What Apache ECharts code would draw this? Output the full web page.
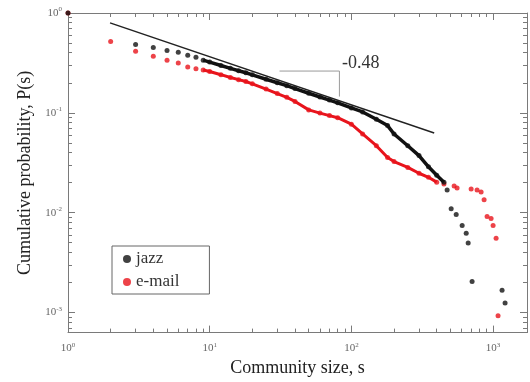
<!DOCTYPE html>
<html>
<head>
<meta charset="utf-8">
<script src="https://cdn.jsdelivr.net/npm/echarts@6/dist/echarts.min.js"></script>
<style>
  html, body { margin: 0; padding: 0; background: #fff; }
  #chart { width: 530px; height: 382px; }
</style>
</head>
<body>
<div id="chart"></div>
<script>
// community size s and cumulative probability P(s)
const jazzSize = [1, 3, 4, 5, 6, 7, 8, 9, 10, 12, 14, 16, 18, 20, 25, 30, 35, 40, 50, 60, 70, 80, 100, 120, 150, 180, 200, 250, 300, 350, 400, 450, 474, 506, 549, 605, 646, 667, 711, 1157, 1215];
const jazzProb = [1, 0.484, 0.452, 0.422, 0.404, 0.377, 0.360, 0.337, 0.322, 0.298, 0.279, 0.264, 0.252, 0.240, 0.217, 0.200, 0.187, 0.175, 0.157, 0.144, 0.134, 0.126, 0.112, 0.102, 0.0863, 0.0745, 0.0613, 0.0468, 0.0373, 0.0288, 0.0237, 0.0202, 0.01686, 0.01094, 0.00955, 0.00745, 0.00621, 0.00495, 0.00204, 0.00167, 0.00124];

const mailSize = [1, 2, 3, 4, 5, 6, 7, 8, 9, 10, 12, 14, 16, 18, 20, 25, 30, 35, 40, 50, 60, 70, 80, 100, 120, 150, 180, 200, 250, 300, 350, 400, 450, 531, 557, 700, 771, 823, 864, 907, 968, 1000, 1050, 1084];
const mailProb = [1, 0.518, 0.413, 0.369, 0.336, 0.315, 0.287, 0.277, 0.268, 0.259, 0.241, 0.226, 0.215, 0.206, 0.195, 0.173, 0.156, 0.143, 0.130, 0.107, 0.0993, 0.0938, 0.0893, 0.0770, 0.0614, 0.0468, 0.0356, 0.0325, 0.0284, 0.0248, 0.0226, 0.0202, 0.0193, 0.01845, 0.01763, 0.01723, 0.01686, 0.0161, 0.01343, 0.00914, 0.00873, 0.00745, 0.00554, 0.000924];

// the slope guide (power law with exponent -0.48) and its bracket
const fitSize = [1.98, 384];
const fitProb = [0.797, 0.0628];
const bracketSize = [31.1, 82.3, 82.3];
const bracketProb = [0.262, 0.262, 0.1455];
const slopeLabel = '-0.48';

const xMin = 1, xMax = 1735;
const yMin = 0.000628, yMax = 1;

const serif = 'Liberation Serif';
const axisGray = '#7a7a7a';
const jazzColor = '#111';
const mailColor = '#e8141c';

function pairs(xs, ys, from, to) {
  const out = [];
  for (let i = from; i < to; i++) out.push([xs[i], ys[i]]);
  return out;
}

function powLabel(v) {
  const e = Math.round(Math.log10(v));
  if (Math.abs(Math.log10(v) - e) > 1e-6) return '';
  return '{b|10}{s|' + e + '}';
}

const labelRich = {
  b: { fontFamily: serif, fontSize: 11, color: '#666' },
  s: { fontFamily: serif, fontSize: 7, color: '#666', padding: [0, 0, 7, 0] }
};

function logAxis(extra) {
  return Object.assign({
    type: 'log',
    logBase: 10,
    splitLine: { show: false },
    axisLine: { show: true, lineStyle: { color: axisGray, width: 1 } },
    axisTick: { show: true, inside: true, length: 7, lineStyle: { color: axisGray } },
    minorTick: { show: true, splitNumber: 9, length: 4, lineStyle: { color: axisGray } },
    minorSplitLine: { show: false }
  }, extra);
}

const chart = echarts.init(document.getElementById('chart'));

const option = {
  animation: false,
  backgroundColor: '#fff',
  grid: { left: 68, right: 2, top: 13, bottom: 44 },
  legend: {
    orient: 'vertical',
    left: 112,
    top: 246,
    data: ['jazz', 'e-mail'],
    icon: 'circle',
    itemWidth: 8,
    itemHeight: 8,
    itemGap: 5,
    padding: [4, 30, 3, 11],
    borderColor: '#666',
    borderWidth: 1,
    textStyle: { fontFamily: serif, fontSize: 17, color: '#333', lineHeight: 18 }
  },
  xAxis: [
    logAxis({
      min: xMin, max: xMax,
      position: 'bottom',
      name: 'Community size, s',
      nameLocation: 'middle',
      nameGap: 20,
      nameTextStyle: { fontFamily: serif, fontSize: 18, color: '#222' },
      axisLabel: { margin: 9, formatter: powLabel, rich: labelRich }
    }),
    logAxis({
      min: xMin, max: xMax,
      position: 'top',
      axisLabel: { show: false }
    })
  ],
  yAxis: [
    logAxis({
      min: yMin, max: yMax,
      position: 'left',
      name: 'Cumulative probability, P(s)',
      nameLocation: 'middle',
      nameGap: 34,
      nameTextStyle: { fontFamily: serif, fontSize: 18, color: '#222' },
      axisLabel: { margin: 6, formatter: powLabel, rich: labelRich }
    }),
    logAxis({
      min: yMin, max: yMax,
      position: 'right',
      axisLabel: { show: false }
    })
  ],
  graphic: [
    {
      type: 'text',
      left: 342,
      top: 54,
      style: { text: slopeLabel, fontFamily: serif, fontSize: 18, fill: '#333' }
    }
  ],
  series: [
    {
      name: 'bracket',
      type: 'line',
      data: pairs(bracketSize, bracketProb, 0, bracketSize.length),
      symbol: 'none',
      silent: true,
      color: '#9a9a9a',
      lineStyle: { color: '#9a9a9a', width: 1 }
    },
    {
      name: 'e-mail',
      type: 'scatter',
      data: pairs(mailSize, mailProb, 0, mailSize.length),
      symbol: 'circle',
      symbolSize: 5,
      color: mailColor,
      itemStyle: { color: mailColor }
    },
    {
      name: 'e-mail',
      type: 'line',
      data: pairs(mailSize, mailProb, 8, 32),
      symbol: 'none',
      silent: true,
      color: mailColor,
      lineStyle: { color: mailColor, width: 3 }
    },
    {
      name: 'jazz',
      type: 'scatter',
      data: pairs(jazzSize, jazzProb, 0, jazzSize.length),
      symbol: 'circle',
      symbolSize: 5,
      color: jazzColor,
      itemStyle: { color: jazzColor }
    },
    {
      name: 'jazz',
      type: 'line',
      data: pairs(jazzSize, jazzProb, 7, 32),
      symbol: 'none',
      silent: true,
      color: jazzColor,
      lineStyle: { color: jazzColor, width: 3.5 }
    },
    {
      name: 'fit',
      type: 'line',
      data: pairs(fitSize, fitProb, 0, fitSize.length),
      symbol: 'none',
      silent: true,
      color: '#222',
      lineStyle: { color: '#222', width: 1.5 }
    }
  ]
};

chart.setOption(option);
</script>
</body>
</html>
